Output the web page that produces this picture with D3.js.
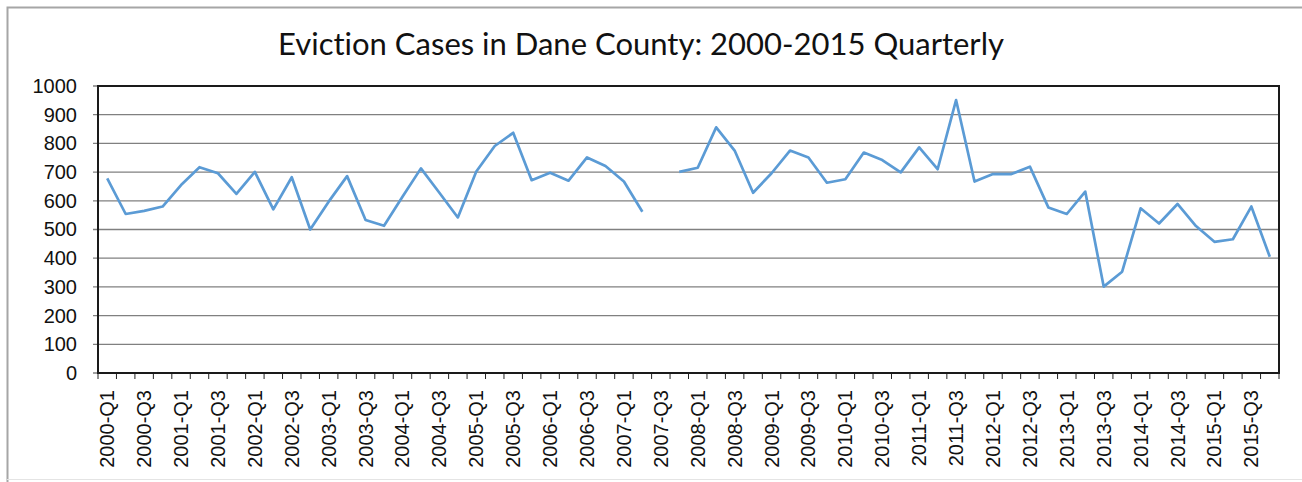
<!DOCTYPE html>
<html>
<head>
<meta charset="utf-8">
<script src="https://cdn.jsdelivr.net/npm/d3@7"></script>
<style>
	body { margin: 0; background: #fff; }
	svg { display: block; font-family: Lato, "Open Sans", sans-serif; font-variant-ligatures: none; }
	.grid line { stroke: #808080; stroke-width: 1.3; }
	.axis text { font-size: 20px; fill: #111; }
	.axis path, .axis line { stroke: #222; }
</style>
</head>
<body>
<svg id="chart" width="1302" height="482"></svg>
<script>
var years = ["2000", "2001", "2002", "2003", "2004", "2005", "2006", "2007",
	"2008", "2009", "2010", "2011", "2012", "2013", "2014", "2015"];
var quarters = ["Q1", "Q2", "Q3", "Q4"];

// eviction cases per quarter, 2007-Q3 missing
var evictions = [
	678, 554, 565, 580,
	655, 717, 696, 624,
	701, 570, 682, 500,
	597, 686, 533, 513,
	614, 713, 628, 542,
	702, 791, 837, 672,
	698, 670, 751, 721,
	667, 562, null, 701,
	715, 856, 775, 628,
	696, 775, 751, 663,
	675, 768, 742, 699,
	786, 710, 951, 667,
	693, 693, 719, 577,
	554, 632, 301, 353,
	574, 521, 589, 512,
	457, 466, 580, 405
];

var yTicks = [0, 100, 200, 300, 400, 500, 600, 700, 800, 900, 1000];
var title = "Eviction Cases in Dane County: 2000-2015 Quarterly";

var categories = [];
years.forEach(function(y){
	quarters.forEach(function(q){ categories.push(y + "-" + q); });
});

var sizes = { left: 98, right: 1279, top: 86, bottom: 373 };

var svg = d3.select("#chart");

// outer chart frame
svg.append("path")
	.attr("d", "M7.5,482 V7.5 H1302")
	.attr("fill", "none")
	.attr("stroke", "#a6a6a6")
	.attr("stroke-width", 2);
svg.append("line")
	.attr("x1", 7).attr("x2", 1302).attr("y1", 479.5).attr("y2", 479.5)
	.attr("stroke", "#e4e4e4");

svg.append("text")
	.attr("x", 641)
	.attr("y", 55)
	.attr("text-anchor", "middle")
	.attr("font-size", 31)
	.attr("fill", "#111")
	.text(title);

var x = d3.scaleBand()
	.domain(categories)
	.range([sizes.left, sizes.right]);

var y = d3.scaleLinear()
	.domain([0, 1000])
	.range([sizes.bottom, sizes.top]);

// horizontal rules
svg.append("g")
	.attr("class", "grid")
	.selectAll("line")
	.data(yTicks)
	.join("line")
	.attr("x1", sizes.left - 5)
	.attr("x2", sizes.right)
	.attr("y1", function(d){ return y(d); })
	.attr("y2", function(d){ return y(d); });

var yAxis = d3.axisLeft(y)
	.tickValues(yTicks)
	.tickSize(0)
	.tickPadding(21)
	.tickFormat(d3.format("d"));
svg.append("g")
	.attr("class", "axis y")
	.attr("transform", "translate(" + sizes.left + ",0)")
	.call(yAxis)
	.call(function(g){ g.select(".domain").remove(); });

// tick marks at category boundaries
var boundaries = categories.map(function(c){ return x(c); }).concat([sizes.right]);
svg.append("g")
	.selectAll("line")
	.data(boundaries)
	.join("line")
	.attr("x1", function(d){ return d; })
	.attr("x2", function(d){ return d; })
	.attr("y1", sizes.bottom)
	.attr("y2", sizes.bottom + 6)
	.attr("stroke", "#222");

var xAxis = d3.axisBottom(x)
	.tickValues(categories.filter(function(c, i){ return i % 2 === 0; }))
	.tickSize(0)
	.tickPadding(0);
var xg = svg.append("g")
	.attr("class", "axis x")
	.attr("transform", "translate(0," + sizes.bottom + ")")
	.call(xAxis);
xg.select(".domain").remove();
xg.selectAll("text")
	.attr("transform", "rotate(-90)")
	.attr("x", -17)
	.attr("y", 0)
	.attr("dy", "0.35em")
	.attr("text-anchor", "end");

// plot frame
svg.append("rect")
	.attr("x", sizes.left)
	.attr("y", sizes.top)
	.attr("width", sizes.right - sizes.left)
	.attr("height", sizes.bottom - sizes.top)
	.attr("fill", "none")
	.attr("stroke", "#1a1a1a")
	.attr("stroke-width", 2);

var line = d3.line()
	.defined(function(d){ return d != null; })
	.x(function(d, i){ return x(categories[i]) + x.bandwidth() / 2; })
	.y(function(d){ return y(d); });

svg.append("path")
	.datum(evictions)
	.attr("fill", "none")
	.attr("stroke", "#5b9bd5")
	.attr("stroke-width", 2.7)
	.attr("stroke-linejoin", "round")
	.attr("d", line);
</script>
</body>
</html>
